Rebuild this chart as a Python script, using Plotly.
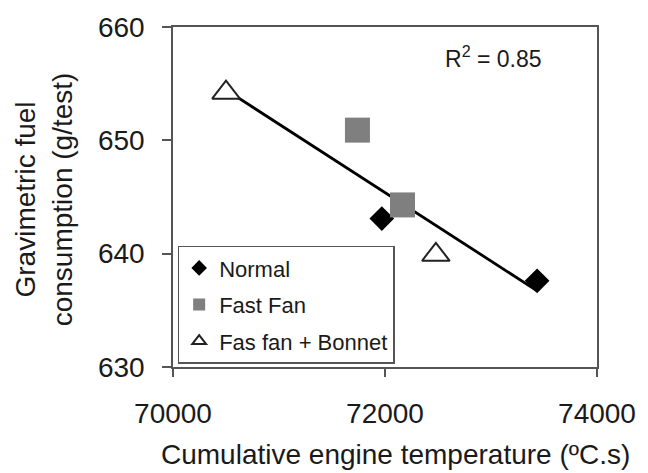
import numpy as np
import plotly.graph_objects as go

# Cumulative engine temperature (ºC.s) and fuel consumption (g/test) per test condition
normal_x = [71970, 73435]
normal_y = [643.1, 637.6]
fastfan_x = [71740, 72165]
fastfan_y = [650.9, 644.3]
bonnet_x = [70500, 72480]
bonnet_y = [654.2, 639.9]

# Linear trend over all tests: y = a*x + b
fit_coef = [-0.00604, 1080.27]
r_squared = 0.85

x_ticks = [70000, 72000, 74000]
y_ticks = [630, 640, 650, 660]

FONT = "Liberation Sans, Arial, sans-serif"
INK = "#1a1a1a"
FRAME = "#555555"

fig = go.Figure()

all_x = normal_x + fastfan_x + bonnet_x
trend_x = np.array([min(all_x), max(all_x)])
trend_y = np.polyval(fit_coef, trend_x)
fig.add_trace(go.Scatter(
    x=trend_x, y=trend_y, mode="lines",
    line=dict(color="black", width=2.8),
    showlegend=False, hoverinfo="skip",
))

fig.add_trace(go.Scatter(
    x=normal_x, y=normal_y, mode="markers", name="Normal", legendgroup="a",
    marker=dict(symbol="diamond", size=19, color="black", line=dict(width=0)),
))
fig.add_trace(go.Scatter(
    x=fastfan_x, y=fastfan_y, mode="markers", name="Fast Fan", legendgroup="b",
    marker=dict(symbol="square", size=25, color="#7f7f7f", line=dict(width=0)),
))
fig.add_trace(go.Scatter(
    x=bonnet_x, y=bonnet_y, mode="markers", name="Fas fan + Bonnet", legendgroup="c",
    marker=dict(symbol="triangle-up", size=24, color="white",
                line=dict(color="#222222", width=2)),
))

axis_common = dict(
    showgrid=False, zeroline=False,
    showline=True, linecolor=FRAME, linewidth=1.5, mirror=True,
    ticks="outside", tickcolor=FRAME, tickwidth=1.5,
    tickfont=dict(family=FONT, size=28, color=INK),
)

fig.update_xaxes(range=[x_ticks[0], x_ticks[-1]], tickvals=x_ticks,
                 ticktext=[str(v) for v in x_ticks], ticklen=8,
                 ticklabelstandoff=13, **axis_common)
fig.update_yaxes(range=[y_ticks[0], y_ticks[-1]], tickvals=y_ticks,
                 ticktext=[str(v) for v in y_ticks], ticklen=9,
                 ticklabelstandoff=12, **axis_common)

fig.add_annotation(
    text="Cumulative engine temperature (ºC.s)",
    xref="paper", yref="paper", x=0.524, y=-0.256,
    xanchor="center", yanchor="middle", showarrow=False,
    font=dict(family=FONT, size=28, color=INK),
)
fig.add_annotation(
    text="Gravimetric fuel<br>consumption (g/test)",
    xref="paper", yref="paper", x=-0.306, y=0.494, textangle=-90,
    xanchor="center", yanchor="middle", showarrow=False,
    font=dict(family=FONT, size=28, color=INK),
)
fig.add_annotation(
    text=f"R<sup>2</sup> = {r_squared:.2f}",
    xref="paper", yref="paper", x=0.757, y=0.913,
    xanchor="center", yanchor="middle", showarrow=False,
    font=dict(family=FONT, size=23, color=INK),
)

fig.update_layout(
    width=648, height=473,
    margin=dict(l=173, r=42, t=23, b=106),
    paper_bgcolor="white", plot_bgcolor="white",
    legend=dict(
        x=0.011, y=0.357, xanchor="left", yanchor="top",
        bgcolor="white", bordercolor=FRAME, borderwidth=1.5,
        font=dict(family=FONT, size=22, color=INK),
        itemsizing="constant", traceorder="grouped", tracegroupgap=5,
    ),
)

fig.write_html("out.html")
